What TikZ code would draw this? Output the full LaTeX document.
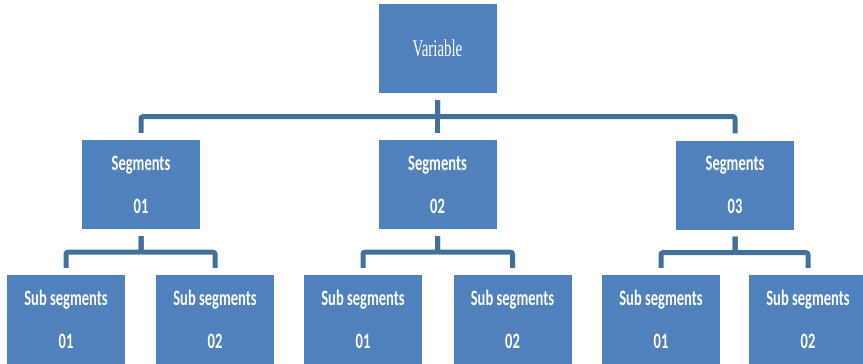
\documentclass[tikz,border=0pt]{standalone}
\usepackage{graphicx}
\usepackage{fontspec}
\setmainfont{Carlito}
\newfontfamily\varfont{Liberation Serif}
\definecolor{boxblue}{HTML}{4F81BD}
\definecolor{linkblue}{HTML}{41709C}
\newcommand{\sq}[1]{\scalebox{0.66}[1]{#1}}
\tikzset{
  box/.style={fill=boxblue, text=white, minimum width=118pt, minimum height=89pt,
    inner sep=0pt, align=center, font=\fontsize{22}{43}\selectfont\bfseries},
  link/.style={draw=linkblue, line width=5pt, rounded corners=2pt,
    shorten <=7pt, shorten >=7pt}
}
\begin{document}
\begin{tikzpicture}[x=1pt, y=-1pt]
        \useasboundingbox (0, 0) rectangle (863, 364);
        \node[box, font=\varfont\fontsize{24}{26}\selectfont] (var) at (437.5, 48.5) {\scalebox{0.62}[1]{Variable}};
        \node[box] (seg1) at (141, 184.5) {\sq{Segments}\\\sq{01}};
        \node[box] (seg2) at (437.5, 184.5) {\sq{Segments}\\\sq{02}};
        \node[box] (seg3) at (735, 185) {\sq{Segments}\\\sq{03}};
        \node[box] (sub11) at (66, 319.5) {\sq{Sub segments}\\\sq{01}};
        \node[box] (sub12) at (215, 319.5) {\sq{Sub segments}\\\sq{02}};
        \node[box] (sub21) at (363, 319.5) {\sq{Sub segments}\\\sq{01}};
        \node[box] (sub22) at (512.5, 319.5) {\sq{Sub segments}\\\sq{02}};
        \node[box] (sub31) at (661, 319.5) {\sq{Sub segments}\\\sq{01}};
        \node[box] (sub32) at (808, 319.5) {\sq{Sub segments}\\\sq{02}};
        \draw[link] (var.south) -- ++(0, 23.5) -| (seg1.north);
        \draw[link] (var.south) -- (seg2.north);
        \draw[link] (var.south) -- ++(0, 23.5) -| (seg3.north);
        \draw[link] (seg1.south) -- ++(0, 23) -| (sub11.north);
        \draw[link] (seg1.south) -- ++(0, 23) -| (sub12.north);
        \draw[link] (seg2.south) -- ++(0, 23) -| (sub21.north);
        \draw[link] (seg2.south) -- ++(0, 23) -| (sub22.north);
        \draw[link] (seg3.south) -- ++(0, 23) -| (sub31.north);
        \draw[link] (seg3.south) -- ++(0, 23) -| (sub32.north);
\end{tikzpicture}
\end{document}
